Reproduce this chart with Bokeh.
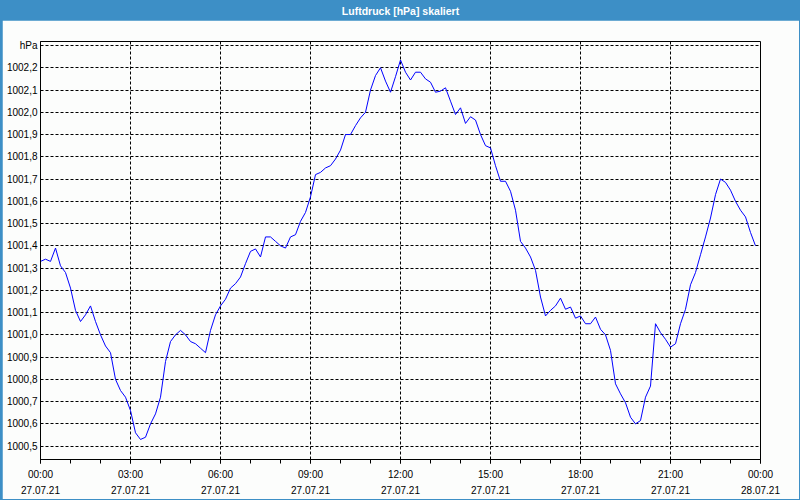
import pandas as pd
from bokeh.plotting import figure
from bokeh.layouts import column
from bokeh.models import Range1d, FixedTicker, Label
from bokeh.embed import file_html
from bokeh.resources import INLINE

title_text = "Luftdruck [hPa] skaliert"
start_time = "2021-07-27 00:00"
end_time = "2021-07-28 00:00"
sample_step = "10min"

# air pressure in hPa, one reading every 10 minutes from 00:00 to 23:50
pressure_hpa = [
    1001.33, 1001.34, 1001.33, 1001.39, 1001.31, 1001.28, 1001.21, 1001.11, 1001.06, 1001.09,
    1001.13, 1001.06, 1001.00, 1000.95, 1000.92, 1000.80, 1000.75, 1000.72, 1000.66, 1000.56,
    1000.53, 1000.54, 1000.60, 1000.645, 1000.72, 1000.88, 1000.97, 1001.00, 1001.02, 1001.00,
    1000.97, 1000.96, 1000.94, 1000.92, 1001.02, 1001.09, 1001.13, 1001.16, 1001.21, 1001.23,
    1001.26, 1001.32, 1001.375, 1001.386, 1001.35, 1001.44, 1001.44, 1001.42, 1001.40, 1001.39,
    1001.44, 1001.45, 1001.51, 1001.55, 1001.62, 1001.72, 1001.73, 1001.75, 1001.76, 1001.79,
    1001.83, 1001.90, 1001.90, 1001.94, 1001.975, 1002.00, 1002.10, 1002.165, 1002.20, 1002.14,
    1002.09, 1002.16, 1002.235, 1002.18, 1002.145, 1002.18, 1002.18, 1002.15, 1002.135, 1002.09,
    1002.095, 1002.11, 1002.05, 1001.99, 1002.02, 1001.95, 1001.98, 1001.965, 1001.90, 1001.85,
    1001.84, 1001.76, 1001.69, 1001.69, 1001.645, 1001.56, 1001.42, 1001.39, 1001.35, 1001.29,
    1001.17, 1001.085, 1001.11, 1001.13, 1001.165, 1001.115, 1001.125, 1001.075, 1001.085, 1001.05,
    1001.05, 1001.08, 1001.025, 1001.00, 1000.93, 1000.78, 1000.735, 1000.695, 1000.63, 1000.60,
    1000.615, 1000.72, 1000.77, 1001.05, 1001.01, 1000.98, 1000.945, 1000.96, 1001.05, 1001.115,
    1001.225, 1001.28, 1001.36, 1001.44, 1001.525, 1001.63, 1001.70, 1001.685, 1001.65, 1001.60,
    1001.56, 1001.53, 1001.46, 1001.40,
]

y_min, y_max = 1000.44, 1002.318
y_ticks = [1000.5, 1000.6, 1000.7, 1000.8, 1000.9, 1001.0, 1001.1, 1001.2, 1001.3, 1001.4,
           1001.5, 1001.6, 1001.7, 1001.8, 1001.9, 1002.0, 1002.1, 1002.2, 1002.3]
y_tick_labels = ["1000,5", "1000,6", "1000,7", "1000,8", "1000,9", "1001,0", "1001,1", "1001,2",
                 "1001,3", "1001,4", "1001,5", "1001,6", "1001,7", "1001,8", "1001,9", "1002,0",
                 "1002,1", "1002,2", "hPa"]

x_tick_times = ["2021-07-27 00:00", "2021-07-27 03:00", "2021-07-27 06:00", "2021-07-27 09:00",
                "2021-07-27 12:00", "2021-07-27 15:00", "2021-07-27 18:00", "2021-07-27 21:00",
                "2021-07-28 00:00"]
x_tick_labels = ["00:00\n27.07.21", "03:00\n27.07.21", "06:00\n27.07.21", "09:00\n27.07.21",
                 "12:00\n27.07.21", "15:00\n27.07.21", "18:00\n27.07.21", "21:00\n27.07.21",
                 "00:00\n28.07.21"]
minor_step = "1h"

BLUE = "#3d8fc6"
BG = "#fcfdfc"
FONT = "Liberation Sans"


def to_ms(t):
    return float(pd.Timestamp(t).value // 10**6)


times = pd.date_range(start_time, periods=len(pressure_hpa), freq=sample_step)
minor_times = pd.date_range(start_time, end_time, freq=minor_step)

# ---- title bar (transparent; the blue comes from the layout's background) ----
bar = figure(width=797, height=20, x_range=Range1d(0, 1), y_range=Range1d(0, 1),
             output_backend="svg", toolbar_location=None, min_border=0,
             background_fill_alpha=0, border_fill_alpha=0, outline_line_color=None)
bar.axis.visible = False
bar.grid.visible = False
bar.add_layout(Label(x=0.5, y=0.5, text=title_text, text_align="center", text_baseline="middle",
                     text_color="white", text_font=FONT, text_font_size="10.5px",
                     text_font_style="bold"))

# ---- main chart ----
p = figure(width=797, height=479, x_axis_type="datetime",
           x_range=Range1d(pd.Timestamp(start_time), pd.Timestamp(end_time)),
           y_range=Range1d(y_min, y_max),
           output_backend="svg", toolbar_location=None,
           min_border_left=38, min_border_right=39, min_border_top=21, min_border_bottom=38,
           background_fill_color=BG, border_fill_color=BG,
           outline_line_color="black", outline_line_alpha=1.0)

p.line(times, pressure_hpa, line_color="#0000ff", line_width=1)

xa = p.xaxis[0]
xa.ticker = FixedTicker(ticks=[to_ms(t) for t in x_tick_times],
                        minor_ticks=[to_ms(t) for t in minor_times])
xa.major_label_overrides = {to_ms(t): lab for t, lab in zip(x_tick_times, x_tick_labels)}
xa.axis_line_color = "black"
xa.major_tick_in = 0
xa.major_tick_out = 4
xa.minor_tick_in = 0
xa.minor_tick_out = 4
xa.major_tick_line_color = "black"
xa.minor_tick_line_color = "black"
xa.major_label_standoff = 5
xa.major_label_text_font = FONT
xa.major_label_text_font_size = "10px"
xa.major_label_text_color = "black"
xa.major_label_text_line_height = 1.5

ya = p.yaxis[0]
ya.ticker = FixedTicker(ticks=y_ticks)
ya.major_label_overrides = {v: lab for v, lab in zip(y_ticks, y_tick_labels)}
ya.axis_line_color = "black"
ya.major_tick_in = 0
ya.major_tick_out = 0
ya.minor_tick_line_color = None
ya.major_label_standoff = 3
ya.major_label_text_font = FONT
ya.major_label_text_font_size = "10px"
ya.major_label_text_color = "black"

for g in (p.xgrid[0], p.ygrid[0]):
    g.grid_line_color = "black"
    g.grid_line_dash = "3 2"
    g.grid_line_alpha = 1.0
    g.grid_line_width = 1

layout = column(bar, p, spacing=0,
                styles={"background-color": BLUE,
                        "border-left": "2px solid " + BLUE, "border-right": "1px solid " + BLUE,
                        "border-bottom": "1px solid " + BLUE})

open("out.html", "w").write(file_html(layout, INLINE))
